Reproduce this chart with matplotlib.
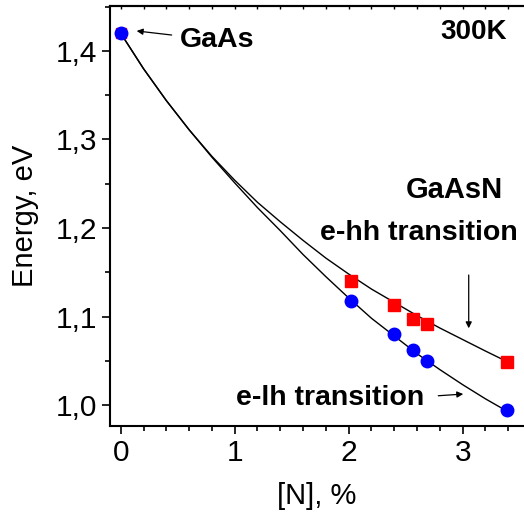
import matplotlib
matplotlib.use("Agg")
import matplotlib.pyplot as plt
from matplotlib.ticker import MultipleLocator, FuncFormatter

plt.rcParams['font.family'] = ['Liberation Sans', 'DejaVu Sans']

# measured points, [N] in %, energy in eV
n_lh = [0.0, 2.02, 2.395, 2.56, 2.69, 3.39]
e_lh = [1.420, 1.1175, 1.080, 1.0625, 1.050, 0.9945]

n_hh = [0.0, 2.02, 2.395, 2.56, 2.69, 3.39]
e_hh = [1.420, 1.1405, 1.1133, 1.097, 1.091, 1.049]

# fitted curves
n_fit = [0.0, 0.2, 0.4, 0.6, 0.8, 1.0, 1.2, 1.4, 1.6, 1.8, 2.0,
         2.2, 2.4, 2.6, 2.8, 3.0, 3.2, 3.39]
e_fit_hh = [1.420, 1.380, 1.344, 1.311, 1.281, 1.254, 1.229, 1.207, 1.186,
            1.166, 1.148, 1.131, 1.116, 1.101, 1.087, 1.074, 1.061, 1.049]
e_fit_lh = [1.420, 1.380, 1.344, 1.311, 1.280, 1.251, 1.223, 1.197, 1.170,
            1.145, 1.121, 1.098, 1.078, 1.058, 1.040, 1.023, 1.007, 0.993]

x_ticks = [0, 1, 2, 3]
y_ticks = [1.0, 1.1, 1.2, 1.3, 1.4]


def comma_fmt(v, pos):
    return ('%.1f' % v).replace('.', ',')


def main():
    fig = plt.figure(figsize=(5.24, 5.21), dpi=100)
    ax = fig.add_axes([0.2099, 0.1823, 0.7901, 0.8062])

    ax.plot(n_fit, e_fit_hh, color='black', lw=1.0, zorder=2)
    ax.plot(n_fit, e_fit_lh, color='black', lw=1.0, zorder=2)
    # GaAs point: the square hides behind the circle
    ax.plot(n_hh[:1], e_hh[:1], 's', color='#ff0000', ms=6.5, mec='#ff0000',
            zorder=3)
    ax.plot(n_hh[1:], e_hh[1:], 's', color='#ff0000', ms=8, mec='#ff0000',
            zorder=3)
    ax.plot(n_lh, e_lh, 'o', color='#0000ff', ms=9, mec='#0000ff', zorder=4)

    ax.set_xlim(-0.094, 3.538)
    ax.set_ylim(0.9763, 1.4508)
    ax.set_xticks(x_ticks)
    ax.set_yticks(y_ticks)
    ax.xaxis.set_minor_locator(MultipleLocator(0.2))
    ax.yaxis.set_minor_locator(MultipleLocator(0.05))
    ax.yaxis.set_major_formatter(FuncFormatter(comma_fmt))
    ax.tick_params(which='major', direction='out', length=6, width=1.2,
                   labelsize=21.5, pad=3)
    ax.tick_params(which='minor', direction='out', length=3.5, width=1.2)
    ax.spines['right'].set_visible(False)
    for s in ['left', 'bottom', 'top']:
        ax.spines[s].set_linewidth(1.5)

    top = ax.secondary_xaxis('top')
    top.set_xticks(x_ticks)
    top.xaxis.set_minor_locator(MultipleLocator(0.2))
    top.tick_params(which='both', direction='in', length=2, width=1,
                    labeltop=False)
    top.spines['top'].set_linewidth(1.5)

    ax.set_xlabel('[N], %', fontsize=21, labelpad=11)
    ax.set_ylabel('Energy, eV', fontsize=21, labelpad=12)

    ax.text(0.52, 1.4124, 'GaAs', fontsize=20.5, fontweight='bold',
            ha='left', va='center')
    ax.text(3.39, 1.4215, '300K', fontsize=20, fontweight='bold',
            ha='right', va='center')
    ax.text(2.93, 1.243, 'GaAsN', fontsize=21, fontweight='bold',
            ha='center', va='center')
    ax.text(2.62, 1.194, 'e-hh transition', fontsize=20.5, fontweight='bold',
            ha='center', va='center')
    ax.text(1.84, 1.008, 'e-lh transition', fontsize=20.5, fontweight='bold',
            ha='center', va='center')

    arrow = dict(arrowstyle='-|>', color='black', lw=0.9, mutation_scale=9,
                 shrinkA=0, shrinkB=0)
    ax.annotate('', xy=(0.14, 1.4226), xytext=(0.447, 1.418),
                arrowprops=arrow)
    ax.annotate('', xy=(3.053, 1.0867), xytext=(3.053, 1.1469),
                arrowprops=arrow)
    ax.annotate('', xy=(3.005, 1.0124), xytext=(2.786, 1.0105),
                arrowprops=arrow)

    fig.savefig('out.png', dpi=100)


if __name__ == "__main__":
    main()
